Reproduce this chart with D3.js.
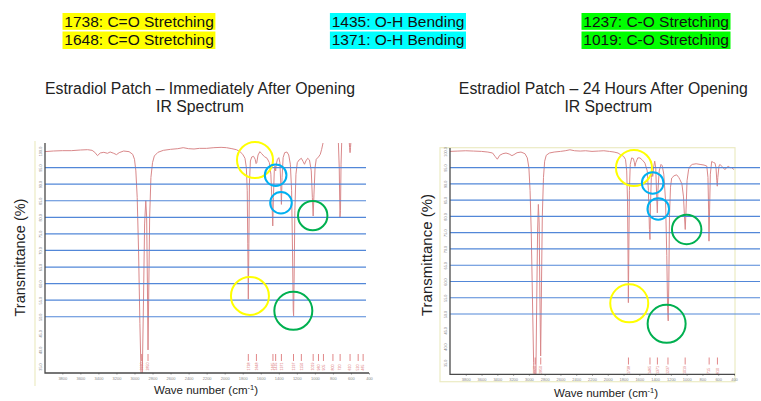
<!DOCTYPE html>
<html>
<head>
<meta charset="utf-8">
<script src="https://cdn.jsdelivr.net/npm/d3@7"></script>
<style>
  body { margin: 0; background: #fff; }
  svg { display: block; font-family: 'Liberation Sans', Arial, sans-serif; }
</style>
</head>
<body>
<svg id="chart"></svg>
<script>
const WIDTH = 761;
const HEIGHT = 401;

// Legend rows: the bands circled on both spectra.
const yellowLabels = ['1738: C=O Stretching', '1648: C=O Stretching'];
const cyanLabels = ['1435: O-H Bending', '1371: O-H Bending'];
const greenLabels = ['1237: C-O Stretching', '1019: C-O Stretching'];

const waveTicks = [3800, 3600, 3400, 3200, 3000, 2800, 2600, 2400, 2200, 2000,
  1800, 1600, 1400, 1200, 1000, 800, 600, 400];
const transTicks = [100, 95, 90, 85, 80, 75, 70, 65, 60, 55, 50, 45, 40, 35];
const gridLevels = [95, 90, 85, 80, 75, 70, 65, 60, 55, 50];

// Spectra: [wavenumber cm-1, transmittance %].
const leftSpectrum = [
  [4000, 99.8], [3900, 100], [3800, 100.1], [3700, 100.1], [3600, 100.3], [3520, 100.4],
  [3470, 100.2], [3440, 99.6], [3410, 98.6], [3380, 99.4], [3340, 99.6], [3300, 99.3],
  [3270, 99.7], [3230, 99.3], [3200, 98.9], [3170, 99.5], [3120, 100], [3060, 99.8],
  [3020, 99], [3000, 97.5], [2985, 94], [2970, 86], [2955, 70], [2940, 48], [2925, 30],
  [2915, 30], [2900, 55], [2888, 78], [2875, 85], [2865, 80], [2857, 60], [2850, 40],
  [2843, 55], [2832, 80], [2818, 92], [2800, 96.5], [2780, 98.5], [2740, 99.6],
  [2680, 100.2], [2600, 100.5], [2520, 100.7], [2460, 101], [2400, 100.7], [2340, 100.6],
  [2280, 100.8], [2200, 100.8], [2120, 101], [2040, 101.1], [1980, 101], [1920, 100.7],
  [1870, 100.4], [1830, 99.8], [1800, 99], [1775, 97.8], [1760, 95], [1750, 88],
  [1744, 72], [1738, 55.3], [1732, 72], [1726, 90], [1715, 97], [1700, 98.2],
  [1680, 98.4], [1662, 97.5], [1652, 96.2], [1645, 96.4], [1630, 98.8], [1610, 99.8],
  [1590, 99.2], [1560, 98.3], [1530, 97.8], [1505, 96.5], [1488, 93], [1475, 84],
  [1467, 77.4], [1460, 86], [1450, 94], [1442, 95.5], [1435, 94], [1428, 96],
  [1415, 97.5], [1400, 98], [1388, 96.5], [1378, 90], [1371, 83.9], [1364, 92],
  [1352, 98], [1335, 99.5], [1310, 99.7], [1290, 98.8], [1272, 96], [1258, 88],
  [1248, 70], [1240, 52], [1236, 50.3], [1230, 62], [1222, 82], [1210, 93],
  [1195, 96.5], [1175, 97.3], [1150, 97.8], [1130, 96.8], [1115, 96], [1100, 97],
  [1080, 97.8], [1060, 97.3], [1040, 94], [1028, 86], [1019, 80.4], [1010, 87],
  [998, 95], [985, 97.5], [960, 98.2], [940, 99], [925, 100.5], [905, 103], [880, 105],
  [760, 105], [740, 103], [730, 95], [722, 80], [716, 82], [710, 96], [700, 105],
  [625, 105], [615, 101], [610, 99.5], [605, 101], [595, 105], [400, 105]
];

const rightSpectrum = [
  [4000, 100], [3900, 100.1], [3800, 100.2], [3700, 100.1], [3600, 100], [3520, 99.8],
  [3460, 99.5], [3430, 98.5], [3400, 97.6], [3370, 98.8], [3330, 99.3], [3290, 99.5],
  [3250, 99.2], [3215, 98.7], [3190, 99], [3150, 99.6], [3100, 99.8], [3050, 99.3],
  [3020, 98], [3000, 95], [2985, 88], [2970, 75], [2955, 55], [2940, 35], [2925, 28],
  [2912, 30], [2900, 55], [2890, 75], [2880, 83.7], [2870, 78], [2860, 55], [2851, 37.1],
  [2842, 55], [2830, 80], [2815, 92], [2800, 97], [2780, 98.8], [2740, 99.5],
  [2680, 99.8], [2600, 100], [2540, 100.2], [2480, 100.5], [2420, 100.2], [2350, 100.1],
  [2280, 100.2], [2200, 100], [2120, 100.1], [2050, 100.2], [1980, 100], [1920, 99.8],
  [1870, 99.5], [1840, 99], [1800, 98.5], [1775, 97.5], [1760, 94], [1750, 85],
  [1744, 70], [1739, 53.5], [1733, 70], [1726, 88], [1715, 96], [1697, 98],
  [1675, 97.8], [1662, 96.5], [1655, 95.4], [1645, 96.5], [1620, 98], [1592, 98],
  [1560, 97.3], [1529, 96.4], [1500, 94], [1485, 88], [1472, 76], [1465, 72.9],
  [1458, 84], [1448, 92], [1438, 94], [1430, 92.3], [1420, 95], [1405, 97],
  [1392, 95], [1380, 86], [1372, 81.1], [1364, 88], [1348, 94], [1325, 96],
  [1310, 95.6], [1290, 93], [1268, 85], [1252, 68], [1242, 52], [1234, 47.9],
  [1226, 60], [1218, 80], [1205, 89], [1190, 91.8], [1160, 92.5], [1127, 92.8],
  [1100, 92], [1085, 91.3], [1060, 90], [1040, 86], [1028, 80], [1018, 76],
  [1008, 82], [995, 91], [975, 94.5], [958, 95.4], [930, 96], [880, 96.2],
  [830, 96], [780, 95.8], [745, 95.5], [730, 92], [722, 82], [717, 72.4], [711, 80],
  [700, 93], [683, 96.9], [660, 96.6], [641, 96.4], [628, 95], [618, 91], [612, 89.3],
  [605, 92], [590, 95.5], [578, 96], [550, 95.3], [515, 94.4], [495, 95], [473, 95.4],
  [450, 95], [430, 95], [410, 94.6], [400, 94.4]
];

// Peak-pick markers printed along the bottom of each spectrum.
const leftPeaks = [2920, 2850, 1738, 1648, 1465, 1435, 1371, 1237, 1150, 1019,
  960, 905, 800, 720, 610, 520, 465];
const rightPeaks = [2920, 2850, 1738, 1465, 1371, 1237, 1019, 715, 610];

// Annotation circles: [wavenumber, transmittance, band].
const leftCircles = [
  [1664, 97.3, 'C=O'], [1720, 56.3, 'C=O'], [1435, 92.7, 'O-H'],
  [1376, 84.4, 'O-H'], [1024, 80.5, 'C-O'], [1239, 51.8, 'C-O']
];
const rightCircles = [
  [1668, 94.9, 'C=O'], [1728, 53.3, 'C=O'], [1431, 90.3, 'O-H'],
  [1360, 82.3, 'O-H'], [1000, 76, 'C-O'], [1254, 47, 'C-O']
];

const bandColor = {'C=O': '#ffff00', 'O-H': '#00b0f0', 'C-O': '#00b050'};

const svg = d3
  .select('#chart')
  .attr('width', WIDTH)
  .attr('height', HEIGHT)
  .attr('viewBox', `0 0 ${WIDTH} ${HEIGHT}`);

svg.append('rect').attr('width', WIDTH).attr('height', HEIGHT).attr('fill', '#fff');

// Highlighted legend rows.
function drawLegend(labels, color, textX) {
  labels.forEach((label, i) => {
    const baseline = i === 0 ? 26.5 : 45;
    const box = svg.append('rect').attr('fill', color);
    const text = svg
      .append('text')
      .attr('x', textX)
      .attr('y', baseline)
      .attr('font-size', 15.5)
      .attr('fill', '#111')
      .text(label);
    const len = text.node().getComputedTextLength();
    box
      .attr('x', textX - 1.8)
      .attr('y', i === 0 ? 13 : 31.5)
      .attr('width', len + 3.4)
      .attr('height', i === 0 ? 16.8 : 17.5);
  });
}
drawLegend(yellowLabels, '#ffff00', 64.3);
drawLegend(cyanLabels, '#00ffff', 331.7);
drawLegend(greenLabels, '#00ff00', 583.3);

function drawPanel(cfg, idx) {
  const x = d3.scaleLinear().domain([4000, 400]).range(cfg.xRange);
  const y = d3.scaleLinear().domain([35, 100]).range(cfg.yRange);
  const g = svg.append('g');
  const p = cfg.plot;

  // Faint frame of the pasted spectrum picture.
  if (cfg.frame) {
    g.append('rect')
      .attr('x', cfg.frame[0]).attr('y', cfg.frame[1])
      .attr('width', cfg.frame[2]).attr('height', cfg.frame[3])
      .attr('fill', 'none').attr('stroke', '#ecebc4').attr('stroke-width', 1.2);
  } else {
    g.append('line')
      .attr('x1', 35).attr('x2', 35).attr('y1', 141).attr('y2', 386)
      .attr('stroke', '#ecebc4').attr('stroke-width', 1.2);
  }

  const clipId = 'clip' + idx;
  g.append('clipPath').attr('id', clipId)
    .append('rect')
    .attr('x', p.left).attr('y', p.top)
    .attr('width', p.right - p.left).attr('height', p.bottom - p.top);

  // Spectrum trace.
  const line = d3.line().x(d => x(d[0])).y(d => y(d[1]));
  g.append('path')
    .datum(cfg.spectrum)
    .attr('clip-path', `url(#${clipId})`)
    .attr('d', line)
    .attr('fill', 'none')
    .attr('stroke', '#d9888a')
    .attr('stroke-width', 1);

  // Peak markers and their tiny labels.
  const peaks = g.selectAll('g.peak').data(cfg.peaks).join('g').attr('class', 'peak');
  peaks.append('line')
    .attr('x1', d => x(d)).attr('x2', d => x(d))
    .attr('y1', cfg.markTop).attr('y2', cfg.markTop + 7)
    .attr('stroke', '#d9686a').attr('stroke-width', 0.8);
  peaks.append('text')
    .attr('transform', d => `translate(${x(d) + 1.2},${cfg.markTop + 16.5}) rotate(-90)`)
    .attr('font-size', 3.6)
    .attr('fill', '#d9686a')
    .text(d => d);

  // Horizontal blue guide lines.
  g.selectAll('line.grid').data(gridLevels).join('line')
    .attr('class', 'grid')
    .attr('x1', p.left).attr('x2', cfg.gridRight)
    .attr('y1', d => y(d)).attr('y2', d => y(d))
    .attr('stroke', '#5287d8').attr('stroke-width', 1.2);

  // Axes.
  const xAxis = g.append('g')
    .attr('transform', `translate(0,${p.bottom})`)
    .call(d3.axisBottom(x).tickValues(waveTicks).tickSize(1.5).tickPadding(2.5)
      .tickFormat(d3.format('d')));
  xAxis.select('.domain').remove();
  xAxis.selectAll('line').attr('stroke', '#999');
  xAxis.selectAll('text').attr('font-size', 4).attr('fill', '#888')
    .attr('font-family', 'Liberation Sans, Arial, sans-serif');

  const yAxis = g.append('g')
    .attr('transform', `translate(${p.left},0)`)
    .call(d3.axisLeft(y).tickValues(transTicks).tickSize(0).tickFormat(d3.format('.1f')));
  yAxis.select('.domain').remove();
  yAxis.selectAll('text')
    .attr('x', null).attr('dy', null)
    .attr('transform', 'translate(-3.5,0) rotate(-90)')
    .attr('text-anchor', 'middle')
    .attr('font-size', 3.8).attr('fill', '#888')
    .attr('font-family', 'Liberation Sans, Arial, sans-serif');

  g.append('path')
    .attr('d', `M${p.left},${p.top}V${p.bottom}H${p.right}`)
    .attr('fill', 'none').attr('stroke', '#4a4a4a').attr('stroke-width', 1.3);

  // Band circles.
  g.selectAll('circle').data(cfg.circles).join('circle')
    .attr('cx', d => x(d[0]))
    .attr('cy', d => y(d[1]))
    .attr('r', d => d[2] === 'O-H' ? 10.8 : d[1] < 70 ? 19 : d[2] === 'C-O' ? 14.7 : 18)
    .attr('fill', 'none')
    .attr('stroke', d => bandColor[d[2]])
    .attr('stroke-width', 2);

  // Titles and axis labels.
  g.append('text')
    .attr('x', cfg.titleX).attr('y', 94)
    .attr('text-anchor', 'middle').attr('font-size', 15.8).attr('fill', '#222')
    .text(cfg.title);
  g.append('text')
    .attr('x', cfg.subX).attr('y', 111.5)
    .attr('text-anchor', 'middle').attr('font-size', 15.8).attr('fill', '#222')
    .text('IR Spectrum');

  g.append('text')
    .attr('transform', `translate(${cfg.yLabel[0]},${cfg.yLabel[1]}) rotate(-90)`)
    .attr('text-anchor', 'middle').attr('font-size', cfg.yLabel[2]).attr('fill', '#222')
    .text('Transmittance (%)');

  const xl = g.append('text')
    .attr('x', cfg.xLabel[0]).attr('y', cfg.xLabel[1])
    .attr('text-anchor', 'middle').attr('font-size', 11.5).attr('fill', '#222');
  xl.append('tspan').text('Wave number (cm');
  xl.append('tspan').attr('font-size', 7.5).attr('dy', -4.5).text('-1');
  xl.append('tspan').attr('dy', 4.5).text(')');
}

drawPanel({
  title: 'Estradiol Patch \u2013 Immediately After Opening',
  titleX: 200, subX: 200,
  spectrum: leftSpectrum, peaks: leftPeaks, circles: leftCircles,
  xRange: [44.3, 369], yRange: [366.5, 151],
  plot: {left: 45, right: 369, top: 143, bottom: 373},
  gridRight: 366, markTop: 354, frame: null,
  yLabel: [25.3, 257.5, 14.5], xLabel: [206, 394]
}, 0);

drawPanel({
  title: 'Estradiol Patch \u2013 24 Hours After Opening',
  titleX: 603.3, subX: 608.3,
  spectrum: rightSpectrum, peaks: rightPeaks, circles: rightCircles,
  xRange: [450, 734], yRange: [362.8, 151.4],
  plot: {left: 450, right: 735, top: 148, bottom: 374.3},
  gridRight: 760, markTop: 357.5, frame: [440, 147.7, 295, 234],
  yLabel: [431.9, 255, 15], xLabel: [606, 397]
}, 1);
</script>
</body>
</html>
